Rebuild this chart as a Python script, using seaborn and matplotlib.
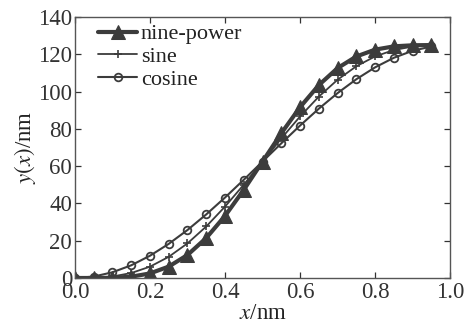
import matplotlib
matplotlib.use("Agg")
import matplotlib.pyplot as plt
import seaborn as sns
import pandas as pd

x_vals = [0.00, 0.05, 0.10, 0.15, 0.20, 0.25, 0.30, 0.35, 0.40, 0.45,
          0.50, 0.55, 0.60, 0.65, 0.70, 0.75, 0.80, 0.85, 0.90, 0.95]
nine_power = [0.0, 0.004, 0.11, 0.70, 2.45, 6.12, 12.35, 21.47, 33.32, 47.32,
              62.5, 77.68, 91.68, 103.53, 112.65, 118.88, 122.55, 124.30, 124.89, 125.0]
sine = [0.0, 0.10, 0.81, 2.66, 6.08, 11.36, 18.58, 27.66, 38.31, 50.10,
        62.5, 74.90, 86.69, 97.35, 106.42, 113.64, 118.92, 122.35, 124.19, 124.90]
cosine = [0.0, 0.77, 3.06, 6.81, 11.94, 18.31, 25.76, 34.13, 43.19, 52.72,
          62.5, 72.28, 81.81, 90.87, 99.24, 106.69, 113.06, 118.19, 121.94, 124.23]
series_names = ["nine-power", "sine", "cosine"]
x_ticks = [0.0, 0.2, 0.4, 0.6, 0.8, 1.0]
y_ticks = [0, 20, 40, 60, 80, 100, 120, 140]

sns.set_theme(style="ticks")
plt.rcParams["font.family"] = ["Liberation Serif", "DejaVu Serif"]
plt.rcParams["mathtext.fontset"] = "stix"

fig = plt.figure(figsize=(4.68, 3.29), dpi=100)
ax = fig.add_axes([0.160, 0.155, 0.802, 0.793])

col = "#3c3c3c"
df = pd.DataFrame({"x": x_vals, "nine-power": nine_power, "sine": sine, "cosine": cosine})

sns.lineplot(data=df, x="x", y="nine-power", ax=ax, color=col, linewidth=3.0,
             marker="^", markersize=10, markeredgecolor=col, markerfacecolor=col,
             label=series_names[0])
sns.lineplot(data=df, x="x", y="sine", ax=ax, color=col, linewidth=1.3,
             marker="+", markersize=6, markeredgewidth=1.2, markeredgecolor=col,
             label=series_names[1])
sns.lineplot(data=df, x="x", y="cosine", ax=ax, color=col, linewidth=1.5,
             marker="o", markersize=5.5, markeredgewidth=1.3, markeredgecolor=col,
             markerfacecolor="none", label=series_names[2])

ax.set_xlim(0, 1.0)
ax.set_ylim(0, 140)
ax.set_xticks(x_ticks)
ax.set_xticklabels([f"{t:.1f}" for t in x_ticks])
ax.set_yticks(y_ticks)
ax.set_yticklabels([str(t) for t in y_ticks])
ax.tick_params(direction="in", top=True, right=True, length=4, width=0.9,
               labelsize=16.5, colors="#333333", pad=2)
ax.tick_params(axis="x", pad=3)
for s in ax.spines.values():
    s.set_color("#555555")
    s.set_linewidth(1.0)

ax.set_xlabel(r"$x$/nm", fontsize=16.5, color="#222222", labelpad=0)
ax.set_ylabel(r"$y(x)$/nm", fontsize=16.5, color="#222222", labelpad=0)

leg = ax.legend(loc="upper left", bbox_to_anchor=(0.045, 1.0), frameon=False,
                fontsize=16, handlelength=1.75, handletextpad=0.15,
                labelspacing=0.1, borderaxespad=0.1, borderpad=0.2)
for t in leg.get_texts():
    t.set_color("#222222")

fig.savefig("out.png", dpi=100)
